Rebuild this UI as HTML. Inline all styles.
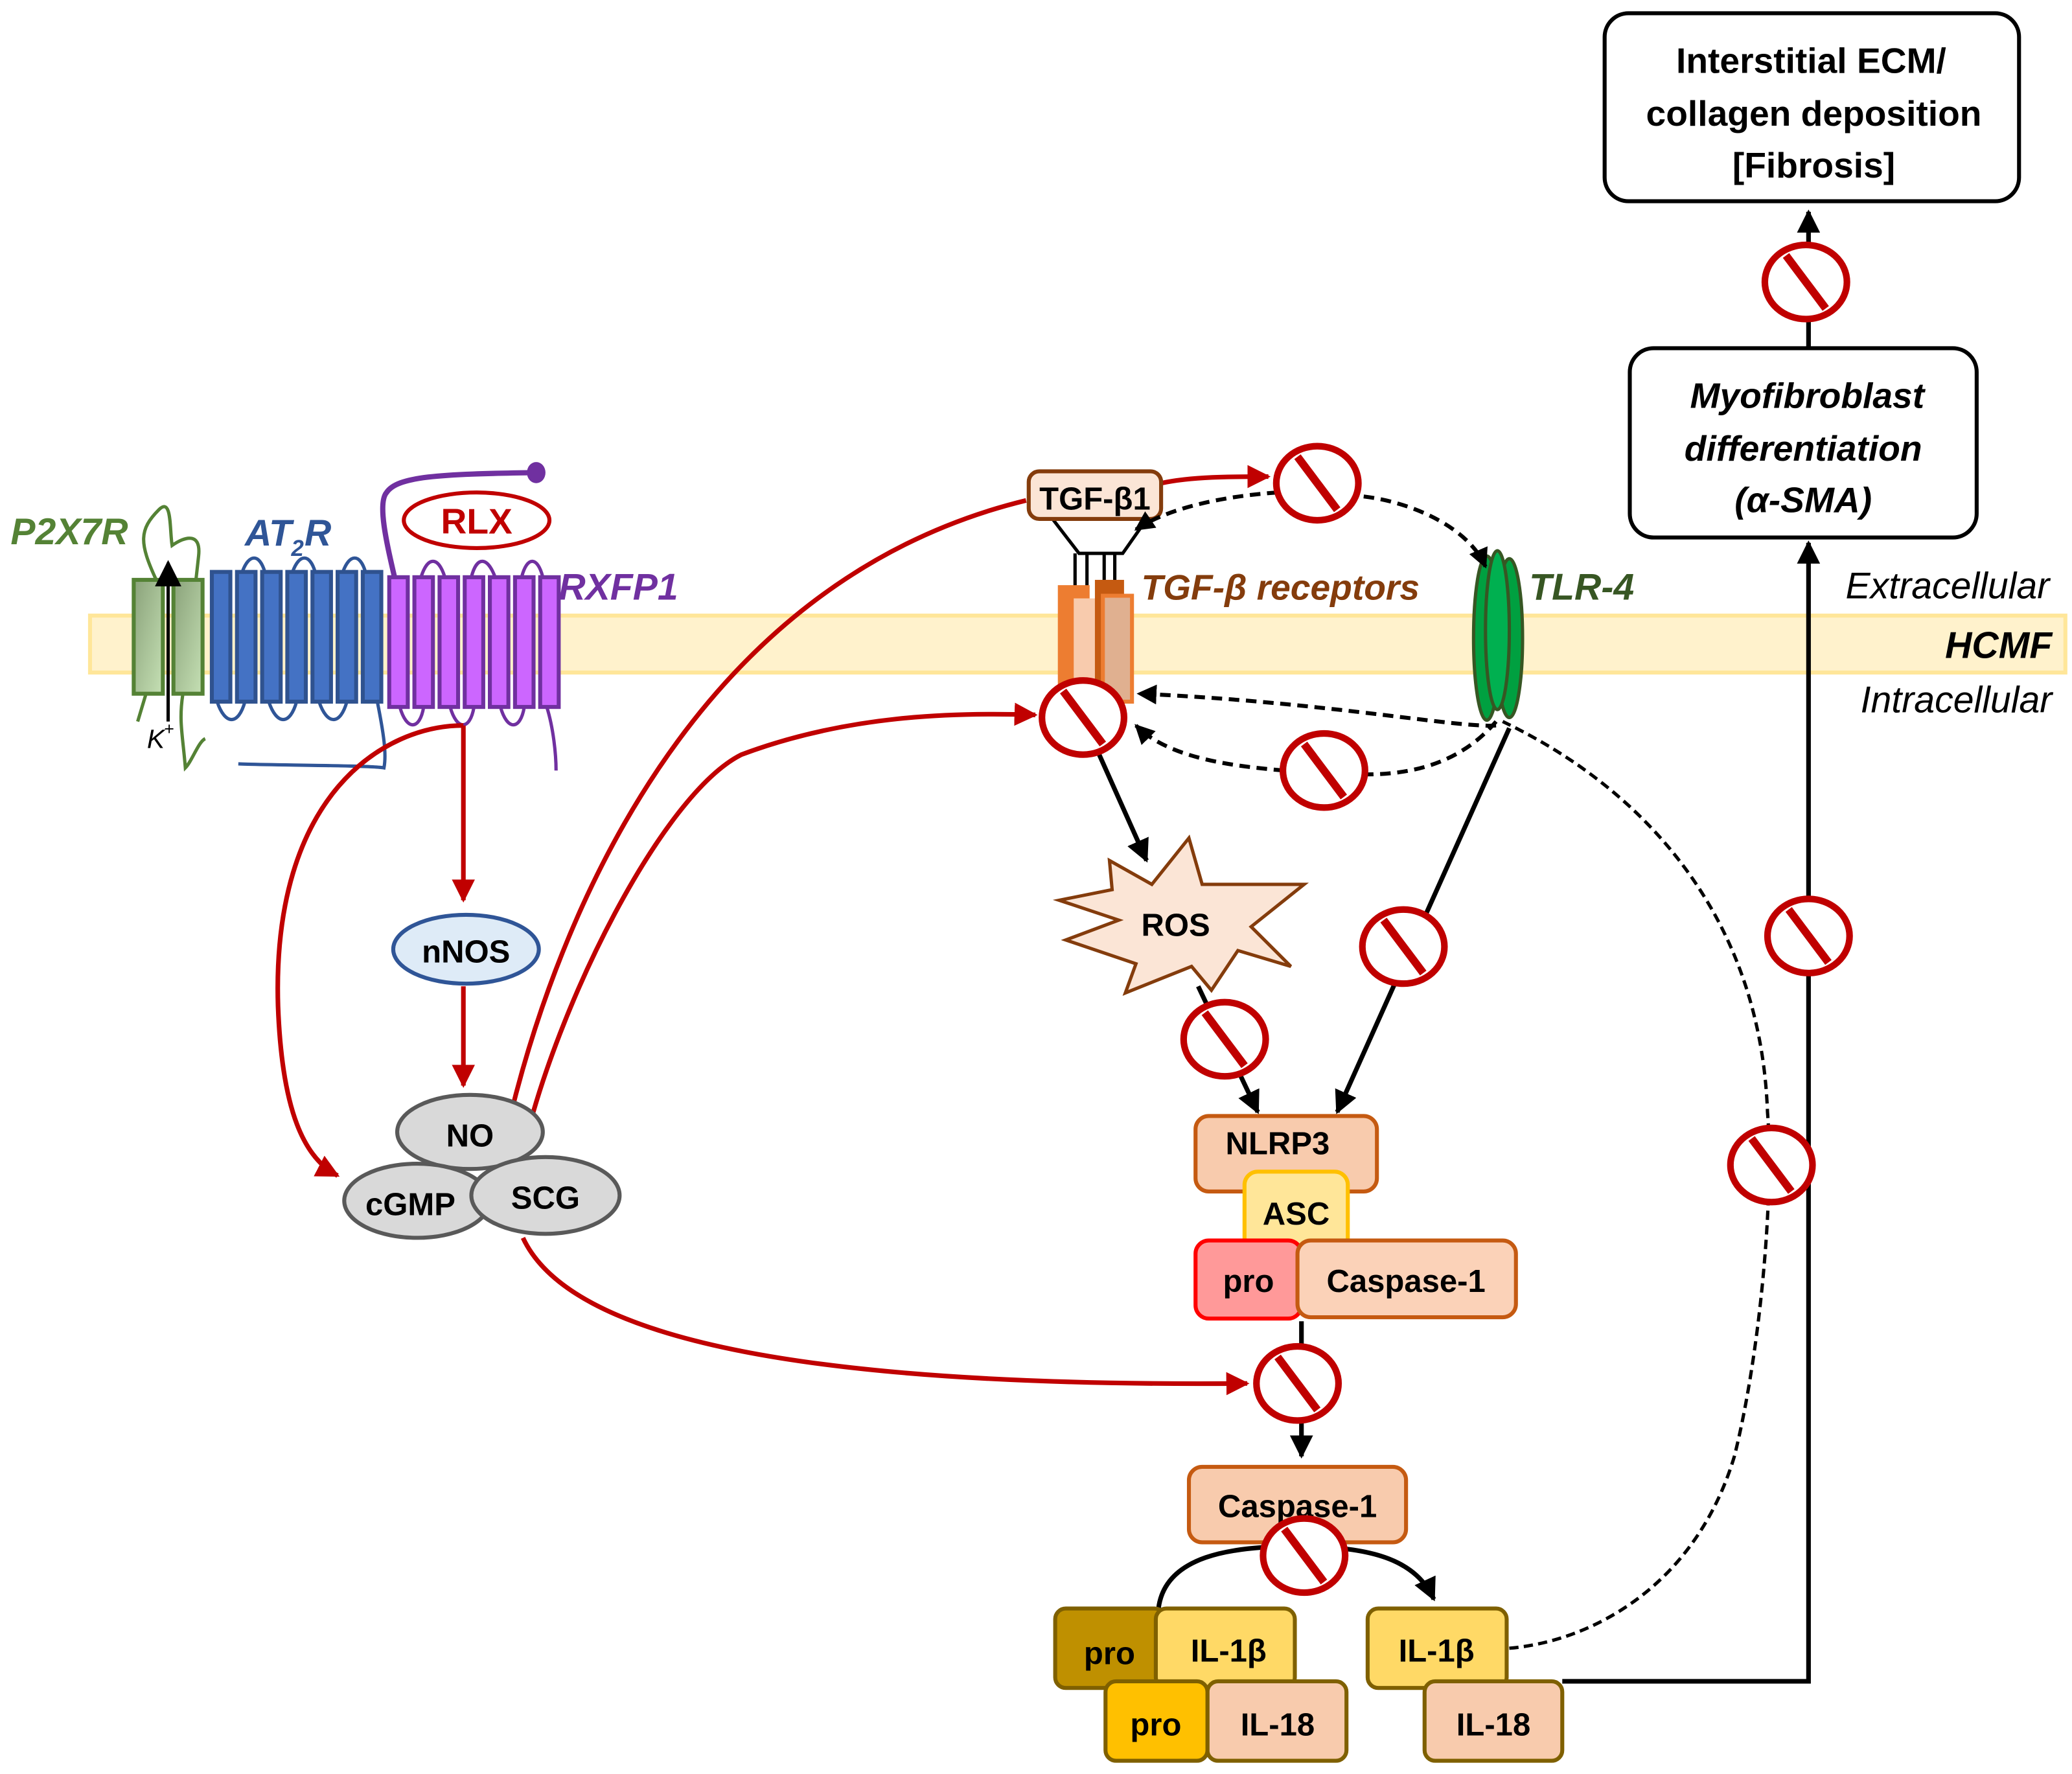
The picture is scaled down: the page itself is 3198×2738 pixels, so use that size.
<!DOCTYPE html>
<html><head><meta charset="utf-8"><style>html,body{margin:0;padding:0;background:#fff}svg{display:block}</style></head><body>
<svg width="3198" height="2738" viewBox="0 0 1565 1340" preserveAspectRatio="none" xmlns="http://www.w3.org/2000/svg" font-family="Liberation Sans, sans-serif">
<defs>
<marker id="ar" viewBox="0 0 10 10" refX="9" refY="5" markerWidth="5" markerHeight="5" orient="auto" markerUnits="strokeWidth"><path d="M0,0L10,5L0,10z" fill="#c00000"/></marker>
<marker id="ab" viewBox="0 0 10 10" refX="9" refY="5" markerWidth="5" markerHeight="5" orient="auto" markerUnits="strokeWidth"><path d="M0,0L10,5L0,10z" fill="#000"/></marker>
<marker id="abs" viewBox="0 0 10 10" refX="9" refY="5" markerWidth="8" markerHeight="8" orient="auto" markerUnits="strokeWidth"><path d="M0,0L10,5L0,10z" fill="#000"/></marker>
<linearGradient id="gg" x1="0" y1="0" x2="1" y2="1"><stop offset="0" stop-color="#8aa27a"/><stop offset="1" stop-color="#c5e0b4"/></linearGradient>
<g id="no"><ellipse cx="0" cy="0" rx="31" ry="28" fill="#fff" stroke="#c00000" stroke-width="5"/><line x1="-15" y1="-20" x2="15" y2="20" stroke="#c00000" stroke-width="6"/></g>
</defs>
<rect x="68" y="465" width="1492" height="43" fill="#fff2cc" stroke="#ffe699" stroke-width="3"/>
<text x="1548" y="452" font-size="28" font-style="italic" text-anchor="end">Extracellular</text>
<text x="1550" y="497" font-size="28" font-weight="bold" font-style="italic" text-anchor="end">HCMF</text>
<text x="1550" y="538" font-size="28" font-style="italic" text-anchor="end">Intracellular</text>
<text x="8" y="411" font-size="28" font-weight="bold" font-style="italic" fill="#548235">P2X7R</text>
<path d="M118,438 C105,410 105,400 120,385 C130,375 128,400 130,412 C140,405 152,402 150,420 L148,438" fill="none" stroke="#548235" stroke-width="2.5"/>
<path d="M110,525 L104,545 M138,525 C135,545 138,555 140,580 C145,575 150,560 155,558" fill="none" stroke="#548235" stroke-width="2.5"/>
<rect x="101" y="438" width="22" height="86" fill="url(#gg)" stroke="#548235" stroke-width="3"/>
<rect x="131" y="438" width="22" height="86" fill="url(#gg)" stroke="#548235" stroke-width="3"/>
<line x1="127" y1="545" x2="127" y2="425" stroke="#000" stroke-width="2.5" marker-end="url(#abs)"/>
<text x="111" y="565" font-size="20" font-style="italic">K</text><text x="124" y="555" font-size="13">+</text>
<text x="185" y="412" font-size="28" font-weight="bold" font-style="italic" fill="#2f5597">AT</text>
<text x="220" y="420" font-size="17" font-weight="bold" font-style="italic" fill="#2f5597">2</text>
<text x="230" y="412" font-size="28" font-weight="bold" font-style="italic" fill="#2f5597">R</text>
<g fill="none" stroke="#2f5597" stroke-width="2.5">
<path d="M183,432 C188,418 196,418 200,432 M221,432 C226,418 234,418 238,432 M259,432 C264,418 272,418 276,432"/>
<path d="M164,530 C170,548 180,548 185,530 M203,530 C209,548 219,548 224,530 M241,530 C247,548 257,548 262,530"/>
<path d="M285,530 C290,555 292,570 290,580 C280,578 200,578 180,577"/>
</g>
<g fill="#4472c4" stroke="#2f528f" stroke-width="3">
<rect x="160" y="432" width="14" height="98"/><rect x="179" y="432" width="14" height="98"/><rect x="198" y="432" width="14" height="98"/><rect x="217" y="432" width="14" height="98"/><rect x="236" y="432" width="14" height="98"/><rect x="255" y="432" width="14" height="98"/><rect x="274" y="432" width="14" height="98"/>
</g>
<path d="M298,436 C292,410 285,380 292,372 C300,360 330,358 405,357" fill="none" stroke="#7030a0" stroke-width="4"/>
<ellipse cx="405" cy="357" rx="7" ry="8" fill="#7030a0"/>
<ellipse cx="360" cy="393" rx="55" ry="21" fill="#fff" stroke="#c00000" stroke-width="3"/>
<text x="360" y="403" font-size="27" font-weight="bold" fill="#c00000" text-anchor="middle">RLX</text>
<text x="422" y="453" font-size="28" font-weight="bold" font-style="italic" fill="#7030a0">RXFP1</text>
<g fill="none" stroke="#7030a0" stroke-width="2.5">
<path d="M318,436 C323,420 331,420 336,436 M356,436 C360,420 368,420 374,436 M394,436 C398,420 406,420 410,436"/>
<path d="M302,534 C307,552 317,552 320,534 M340,534 C345,552 355,552 358,534 M378,534 C383,552 393,552 396,534"/>
<path d="M413,534 C418,550 420,570 420,582"/>
</g>
<g fill="#cc66ff" stroke="#7030a0" stroke-width="3">
<rect x="294" y="436" width="14" height="98"/><rect x="313" y="436" width="14" height="98"/><rect x="332" y="436" width="14" height="98"/><rect x="351" y="436" width="14" height="98"/><rect x="370" y="436" width="14" height="98"/><rect x="389" y="436" width="14" height="98"/><rect x="408" y="436" width="14" height="98"/>
</g>
<g fill="none" stroke="#c00000" stroke-width="3.5">
<path d="M350,548 L350,680" marker-end="url(#ar)"/>
<path d="M350,745 L350,820" marker-end="url(#ar)"/>
<path d="M350,548 C290,548 205,600 210,760 C213,840 230,875 255,888" marker-end="url(#ar)"/>
<path d="M385,845 C420,700 520,440 775,378"/>
<path d="M877,365 C900,360 930,360 958,360" marker-end="url(#ar)"/>
<path d="M395,870 C420,760 500,600 560,570 C640,540 720,538 782,540" marker-end="url(#ar)"/>
<path d="M395,935 C430,1010 600,1048 942,1045" marker-end="url(#ar)"/>
</g>
<ellipse cx="352" cy="717" rx="55" ry="26" fill="#deebf7" stroke="#2f5597" stroke-width="3"/>
<text x="352" y="727" font-size="24" font-weight="bold" text-anchor="middle">nNOS</text>
<ellipse cx="355" cy="855" rx="55" ry="28" fill="#d9d9d9" stroke="#595959" stroke-width="3"/>
<text x="355" y="866" font-size="24" font-weight="bold" text-anchor="middle">NO</text>
<ellipse cx="315" cy="907" rx="55" ry="28" fill="#d9d9d9" stroke="#595959" stroke-width="3"/>
<text x="310" y="918" font-size="24" font-weight="bold" text-anchor="middle">cGMP</text>
<ellipse cx="412" cy="903" rx="56" ry="29" fill="#d9d9d9" stroke="#595959" stroke-width="3"/>
<text x="412" y="913" font-size="24" font-weight="bold" text-anchor="middle">SCG</text>
<path d="M795,392 L815,418 L848,418 L862,398" fill="none" stroke="#000" stroke-width="2.5"/>
<g stroke="#000" stroke-width="2.5"><line x1="812" y1="418" x2="812" y2="462"/><line x1="821" y1="418" x2="821" y2="472"/><line x1="834" y1="418" x2="834" y2="462"/><line x1="842" y1="418" x2="842" y2="472"/></g>
<rect x="799" y="442" width="24" height="85" fill="#ed7d31"/>
<rect x="811" y="452" width="18" height="75" fill="#f8cbad"/>
<rect x="827" y="438" width="22" height="90" fill="#c55a11"/>
<rect x="833" y="450" width="22" height="80" fill="#e0b090" stroke="#ed7d31" stroke-width="3"/>
<rect x="777" y="356" width="100" height="36" rx="8" fill="#fbe5d6" stroke="#843c0c" stroke-width="3"/>
<text x="827" y="385" font-size="24" font-weight="bold" text-anchor="middle">TGF-β1</text>
<text x="862" y="453" font-size="27" font-weight="bold" font-style="italic" fill="#843c0c">TGF-β  receptors</text>
<ellipse cx="1123" cy="482" rx="10" ry="62" fill="#00a040" stroke="#375623" stroke-width="2.5"/>
<ellipse cx="1140" cy="482" rx="10" ry="60" fill="#00a040" stroke="#375623" stroke-width="2.5"/>
<ellipse cx="1131" cy="476" rx="9" ry="60" fill="#00b050" stroke="#375623" stroke-width="2.5"/>
<text x="1155" y="453" font-size="28" font-weight="bold" font-style="italic" fill="#375623">TLR-4</text>
<g fill="none" stroke="#000" stroke-width="3" stroke-dasharray="8,5">
<path d="M1030,375 C1070,380 1110,400 1122,428" marker-end="url(#ab)"/>
<path d="M965,372 C920,375 880,385 858,400" marker-end="url(#ab)"/>
<path d="M1130,545 C1100,580 1060,585 1030,585 M970,582 C920,578 880,570 858,548" marker-end="url(#ab)"/>
<path d="M1130,548 C1100,550 1000,530 860,524" marker-end="url(#ab)"/>
</g>
<path d="M1140,1245 C1200,1240 1280,1200 1310,1100 C1330,1020 1340,900 1335,840 C1330,700 1250,600 1135,545" fill="none" stroke="#000" stroke-width="2.5" stroke-dasharray="7,4"/>
<g fill="none" stroke="#000" stroke-width="3.5">
<path d="M828,565 L866,650" marker-end="url(#ab)"/>
<path d="M905,745 L950,840" marker-end="url(#ab)"/>
<path d="M1140,550 L1010,840" marker-end="url(#ab)"/>
<path d="M983,998 L983,1100" marker-end="url(#ab)"/>
<path d="M875,1215 C880,1175 930,1168 980,1168 C1040,1168 1070,1180 1083,1208" marker-end="url(#ab)"/>
<path d="M1180,1270 L1366,1270 L1366,410" marker-end="url(#ab)"/>
<path d="M1366,262 L1366,160" marker-end="url(#ab)"/>
</g>
<polygon points="838,650 870,668 898,633 908,668 985,668 945,700 975,730 935,718 915,748 900,730 850,750 858,728 805,710 845,695 800,680 840,672" fill="#fbe5d6" stroke="#843c0c" stroke-width="2.5"/>
<text x="888" y="707" font-size="24" font-weight="bold" text-anchor="middle">ROS</text>
<rect x="903" y="843" width="137" height="57" rx="10" fill="#f8cbad" stroke="#c55a11" stroke-width="3"/>
<text x="965" y="872" font-size="24" font-weight="bold" text-anchor="middle">NLRP3</text>
<rect x="940" y="885" width="78" height="60" rx="10" fill="#ffe699" stroke="#ffc000" stroke-width="3"/>
<text x="979" y="925" font-size="24" font-weight="bold" text-anchor="middle">ASC</text>
<rect x="903" y="937" width="80" height="59" rx="10" fill="#ff9999" stroke="#ff0000" stroke-width="3"/>
<text x="943" y="976" font-size="24" font-weight="bold" text-anchor="middle">pro</text>
<rect x="980" y="937" width="165" height="58" rx="10" fill="#fbd2b8" stroke="#c55a11" stroke-width="3"/>
<text x="1062" y="976" font-size="24" font-weight="bold" text-anchor="middle">Caspase-1</text>
<rect x="898" y="1108" width="164" height="57" rx="10" fill="#f8cbad" stroke="#c55a11" stroke-width="3"/>
<text x="980" y="1146" font-size="24" font-weight="bold" text-anchor="middle">Caspase-1</text>
<rect x="797" y="1215" width="83" height="60" rx="8" fill="#bf9000" stroke="#7f6000" stroke-width="3"/>
<text x="838" y="1257" font-size="24" font-weight="bold" text-anchor="middle">pro</text>
<rect x="873" y="1215" width="105" height="60" rx="8" fill="#ffd966" stroke="#7f6000" stroke-width="3"/>
<text x="928" y="1255" font-size="24" font-weight="bold" text-anchor="middle">IL-1β</text>
<rect x="912" y="1270" width="105" height="60" rx="8" fill="#f8cbad" stroke="#7f6000" stroke-width="3"/>
<text x="965" y="1311" font-size="24" font-weight="bold" text-anchor="middle">IL-18</text>
<rect x="835" y="1270" width="77" height="60" rx="8" fill="#ffc000" stroke="#7f6000" stroke-width="3"/>
<text x="873" y="1311" font-size="24" font-weight="bold" text-anchor="middle">pro</text>
<rect x="1033" y="1215" width="105" height="60" rx="8" fill="#ffd966" stroke="#7f6000" stroke-width="3"/>
<text x="1085" y="1255" font-size="24" font-weight="bold" text-anchor="middle">IL-1β</text>
<rect x="1076" y="1270" width="104" height="60" rx="8" fill="#f8cbad" stroke="#7f6000" stroke-width="3"/>
<text x="1128" y="1311" font-size="24" font-weight="bold" text-anchor="middle">IL-18</text>
<rect x="1212" y="10" width="313" height="142" rx="18" fill="#fff" stroke="#000" stroke-width="3"/>
<text x="1368" y="55" font-size="27" font-weight="bold" text-anchor="middle">Interstitial ECM/</text>
<text x="1370" y="95" font-size="27" font-weight="bold" text-anchor="middle">collagen deposition</text>
<text x="1370" y="134" font-size="27" font-weight="bold" text-anchor="middle">[Fibrosis]</text>
<rect x="1231" y="263" width="262" height="143" rx="18" fill="#fff" stroke="#000" stroke-width="3"/>
<text x="1365" y="308" font-size="27" font-weight="bold" font-style="italic" text-anchor="middle">Myofibroblast</text>
<text x="1362" y="348" font-size="27" font-weight="bold" font-style="italic" text-anchor="middle">differentiation</text>
<text x="1362" y="387" font-size="27" font-weight="bold" font-style="italic" text-anchor="middle">(α-SMA)</text>
<use href="#no" x="995" y="365"/><use href="#no" x="818" y="542"/><use href="#no" x="1000" y="582"/>
<use href="#no" x="1060" y="715"/><use href="#no" x="925" y="785"/><use href="#no" x="1338" y="880"/>
<use href="#no" x="1366" y="707"/><use href="#no" x="1364" y="213"/><use href="#no" x="980" y="1045"/>
<use href="#no" x="985" y="1175"/>
</svg>
</body></html>
